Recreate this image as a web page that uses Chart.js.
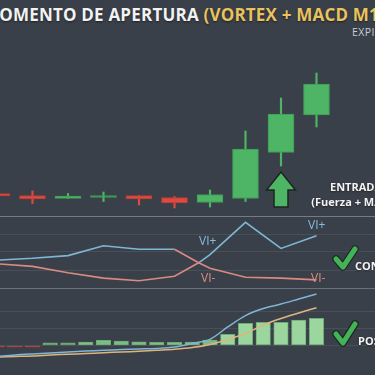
<!DOCTYPE html>
<html>
<head>
<meta charset="utf-8">
<script src="https://cdn.jsdelivr.net/npm/chart.js@4.4.1/dist/chart.umd.min.js"></script>
<style>
  html, body { margin:0; padding:0; }
  body { width:375px; height:375px; overflow:hidden; position:relative; background:#3a4049; font-family:"Open Sans", sans-serif; }
  canvas { position:absolute; left:0; }
  .txt { position:absolute; white-space:nowrap; line-height:1; }
  .lbl { color:#f3f3f3; font-weight:700; font-size:11px; text-shadow:0 1px 2px rgba(0,0,0,.5); }
  .vi { font-size:12px; }
  .sep { position:absolute; left:0; width:375px; height:1px; background:rgba(200,205,212,0.35); }
</style>
</head>
<body>
<div class="txt" style="left:-17px; top:6px; font-size:17px; font-weight:700; letter-spacing:0.2px; color:#f2f2f2; text-shadow:0 1px 2px rgba(0,0,0,.5)">MOMENTO DE APERTURA <span style="color:#e9c35d">(VORTEX + MACD M1)</span></div>
<div class="txt" style="left:352px; top:27px; font-size:10.5px; letter-spacing:0.4px; color:#c9ccd1">EXPIRACIÓN 1 MIN</div>

<canvas id="candles" width="375" height="176" style="top:40px"></canvas>
<canvas id="vortex" width="375" height="72" style="top:216px"></canvas>
<canvas id="macd" width="375" height="87" style="top:288px"></canvas>
<div class="sep" style="top:216px"></div>
<div class="sep" style="top:288px"></div>

<div class="txt lbl" style="left:356px; top:181px; transform:translateX(-50%)">ENTRADA</div>
<div class="txt lbl" style="left:356px; top:196px; transform:translateX(-50%)">(Fuerza + MACD)</div>
<div class="txt lbl" style="left:355px; top:260px">CONFIRMADO</div>
<div class="txt lbl" style="left:358px; top:335px">POSITIVO</div>

<div class="txt vi" style="left:199px; top:235px; color:#86bcd9">VI+</div>
<div class="txt vi" style="left:308px; top:219px; color:#86bcd9">VI+</div>
<div class="txt vi" style="left:201px; top:272px; color:#d98d85">VI-</div>
<div class="txt vi" style="left:311px; top:272px; color:#d98d85">VI-</div>

<svg width="375" height="375" style="position:absolute; left:0; top:0; pointer-events:none">
  <polyline points="336,259 343,267 355,249" fill="none" stroke="#1d2a22" stroke-width="7.5" stroke-linecap="round" stroke-linejoin="round"/>
  <polyline points="336,259 343,267 355,249" fill="none" stroke="#44b257" stroke-width="5" stroke-linecap="round" stroke-linejoin="round"/>
  <polyline points="336,334 343,343 355,324" fill="none" stroke="#1d2a22" stroke-width="7.5" stroke-linecap="round" stroke-linejoin="round"/>
  <polyline points="336,334 343,343 355,324" fill="none" stroke="#44b257" stroke-width="5" stroke-linecap="round" stroke-linejoin="round"/>
</svg>

<script>
// candles (one per minute), price in pips
var candleX = [0, 1, 2, 3, 4, 5, 6, 7, 8, 9]
var opens  = [16.5, 14.5, 11.5, 12.5, 14.5, 12.5,  7.5, 11.5,  57.5,  95]
var closes = [14,   11,   14,   14.5, 11,    7,   15.5, 61,    96,   126]
var highs  = [16.5, 19,   16.5, 18,   14.5, 13.5, 20,   79,   112,   137]
var lows   = [14,    6.5, 11.5,  8.5,  5,    2,    3,    8.5,  44,    83]
var entryIndex = 8

// vortex lines, with the crossing point between minute 5 and 6
var viX     = [0, 1, 2, 3, 4, 5, 5.68, 6, 7, 8, 9]
var viMinus = [0.91, 0.93, 0.96, 1.07, 1.03, 1.03, 0.88, 0.82, 0.72, 0.71, 0.69]
var viPlus  = [0.87, 0.84, 0.77, 0.71, 0.68, 0.73, 0.88, 0.97, 1.33, 1.04, 1.18]

// macd (half-minute samples)
var macdX  = [0, 0.5, 1, 1.5, 2, 2.5, 3, 3.5, 4, 4.5, 5, 5.5, 6, 6.5, 7, 7.5, 8, 8.5, 9]
var macd   = [-0.64, -0.55, -0.49, -0.44, -0.38, -0.32, -0.28, -0.23, -0.20, -0.17, -0.09, 0.12, 0.36, 1.08, 1.74, 2.15, 2.41, 2.70, 2.99]
var signal = [-0.67, -0.64, -0.61, -0.55, -0.51, -0.47, -0.42, -0.38, -0.34, -0.28, -0.22, -0.12, 0.06, 0.35, 0.70, 1.19, 1.57, 1.89, 2.20]
var hist   = [-0.08, -0.08, -0.08, 0.15, 0.15, 0.20, 0.30, 0.26, 0.22, 0.19, 0.19, 0.20, 0.32, 0.65, 1.29, 1.35, 1.35, 1.48, 1.58]

var GREEN = "#4db565", RED = "#de4a3e", BLUE = "#7fb6d6", PINK = "#d98a82", ORANGE = "#dfb57c"
var GRID = "rgba(255,255,255,0.08)"
var X_MIN = 0.085, X_MAX = 10.648

var zip = (xs, ys) => xs.map((x, i) => ({x: x, y: ys[i]}))
var up = candleX.map((x, i) => closes[i] >= opens[i])

var base = {
    responsive: false,
    animation: false,
    events: [],
    layout: {padding: 0, autoPadding: false},
    plugins: {legend: {display: false}, tooltip: {enabled: false}}
}

var hiddenX = {type: "linear", min: X_MIN, max: X_MAX, display: false, offset: false}

// draws the green "entry" arrow under the entry candle
var arrowPlugin = {
    id: "entryArrow",
    afterDatasetsDraw(chart) {
        var ctx = chart.ctx
        var x = chart.scales.x.getPixelForValue(candleX[entryIndex])
        var tip = chart.scales.y.getPixelForValue(lows[entryIndex]) + 6
        ctx.save()
        ctx.beginPath()
        ctx.moveTo(x, tip)
        ctx.lineTo(x + 14.5, tip + 18)
        ctx.lineTo(x + 7, tip + 18)
        ctx.lineTo(x + 7, tip + 35)
        ctx.lineTo(x - 7, tip + 35)
        ctx.lineTo(x - 7, tip + 18)
        ctx.lineTo(x - 14.5, tip + 18)
        ctx.closePath()
        ctx.fillStyle = GREEN
        ctx.fill()
        ctx.lineWidth = 1.5
        ctx.strokeStyle = "#1c2520"
        ctx.stroke()
        ctx.restore()
    }
}

new Chart(document.getElementById("candles"), {
    type: "bar",
    data: {
        datasets: [
            {
                data: candleX.map((x, i) => ({x: x, y: [lows[i], highs[i]]})),
                backgroundColor: up.map(u => u ? GREEN : RED),
                barThickness: 1.5,
                grouped: false,
                order: 2
            },
            {
                data: candleX.map((x, i) => ({x: x, y: [opens[i], closes[i]]})),
                backgroundColor: up.map(u => u ? GREEN : RED),
                borderColor: up.map(u => u ? "#3f9a55" : "#b93c33"),
                borderWidth: 1,
                borderSkipped: false,
                barThickness: 26,
                grouped: false,
                order: 1
            }
        ]
    },
    options: Object.assign({}, base, {
        scales: {
            x: hiddenX,
            y: {min: -6, max: 170, display: false}
        }
    }),
    plugins: [arrowPlugin]
})

new Chart(document.getElementById("vortex"), {
    type: "line",
    data: {
        datasets: [
            {
                label: "VI-",
                data: zip(viX, viMinus),
                borderWidth: 1.6,
                pointRadius: 0,
                borderColor: BLUE,
                segment: {borderColor: c => c.p1.parsed.x <= 5 ? BLUE : PINK}
            },
            {
                label: "VI+",
                data: zip(viX, viPlus),
                borderWidth: 1.6,
                pointRadius: 0,
                borderColor: PINK,
                segment: {borderColor: c => c.p1.parsed.x <= 5.68 ? PINK : BLUE}
            }
        ]
    },
    options: Object.assign({}, base, {
        scales: {
            x: hiddenX,
            y: {
                min: 0.6, max: 1.4,
                ticks: {display: false, stepSize: 0.2},
                grid: {color: GRID, drawTicks: false},
                border: {display: false}
            }
        }
    })
})

new Chart(document.getElementById("macd"), {
    type: "bar",
    data: {
        datasets: [
            {
                type: "line",
                label: "MACD",
                data: zip(macdX, macd),
                borderColor: BLUE,
                borderWidth: 1.5,
                pointRadius: 0,
                tension: 0.3,
                order: 1
            },
            {
                type: "line",
                label: "Señal",
                data: zip(macdX, signal),
                borderColor: ORANGE,
                borderWidth: 1.5,
                pointRadius: 0,
                tension: 0.3,
                order: 1
            },
            {
                label: "Histograma",
                data: zip(macdX, hist),
                backgroundColor: hist.map(v => v < 0 ? "#c9463c" : (v > 0.5 ? "rgba(160,222,163,0.95)" : "rgba(130,200,138,0.9)")),
                borderColor: hist.map(v => v < 0 ? "#c9463c" : "#6ea874"),
                borderWidth: 1,
                borderSkipped: false,
                barThickness: 14.5,
                order: 2
            }
        ]
    },
    options: Object.assign({}, base, {
        scales: {
            x: hiddenX,
            y: {
                min: -1.715, max: 3.343,
                ticks: {display: false, stepSize: 1},
                grid: {
                    drawTicks: false,
                    color: c => Math.abs(c.tick.value - Math.round(c.tick.value)) < 1e-6 ? GRID : "transparent"
                },
                border: {display: false}
            }
        }
    })
})
</script>
</body>
</html>
